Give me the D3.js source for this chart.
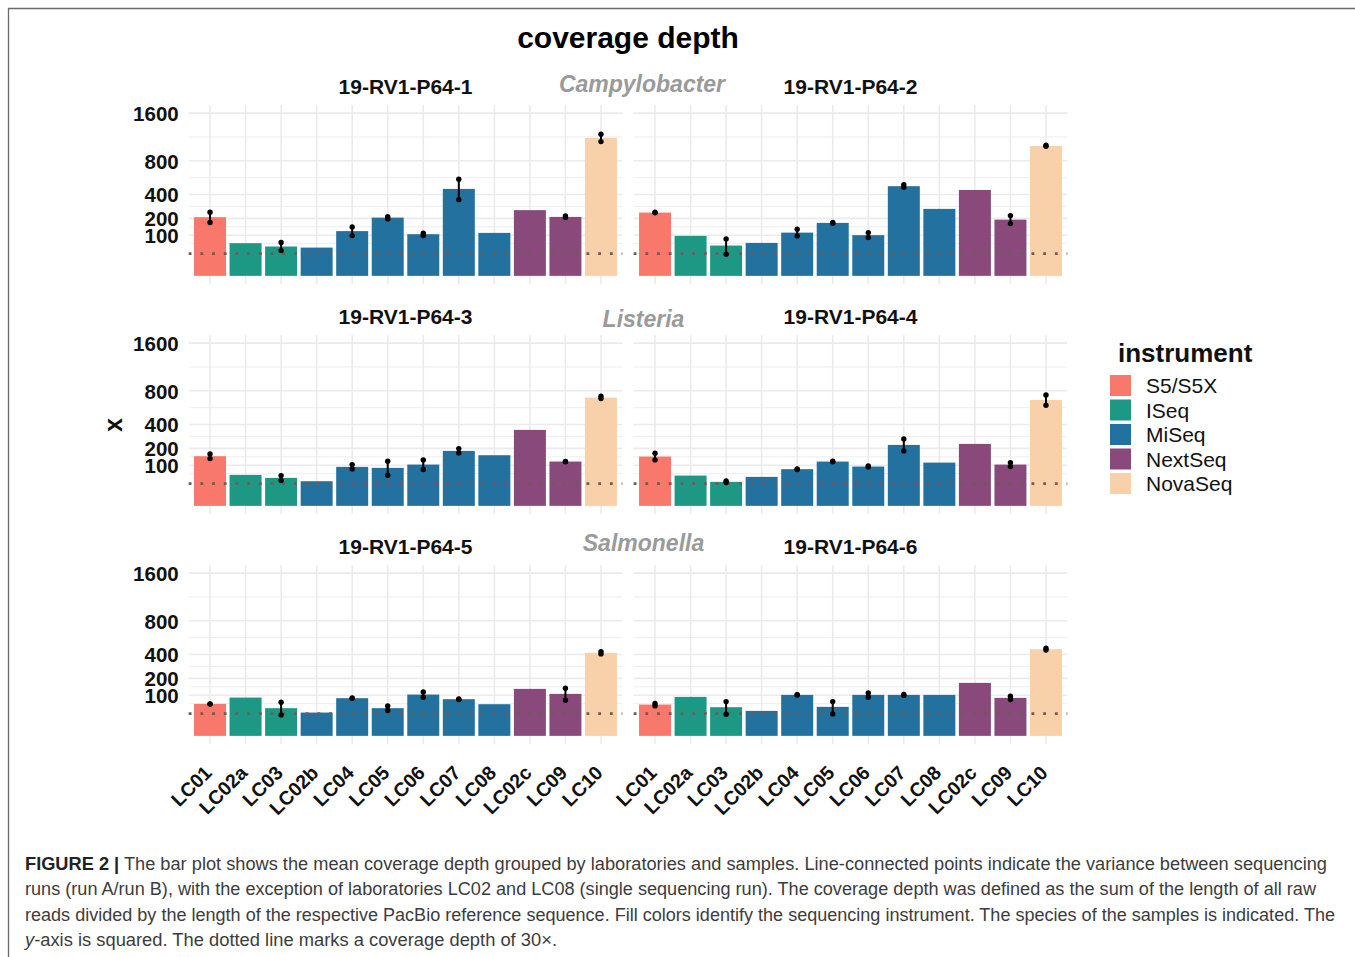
<!DOCTYPE html>
<html>
<head>
<meta charset="utf-8">
<script src="https://cdn.jsdelivr.net/npm/d3@7"></script>
<style>
  body { margin: 0; background: #ffffff; }
  svg { display: block; }
</style>
</head>
<body>
<svg id="chart" width="1355" height="957"></svg>
<script>
// ---- data ---------------------------------------------------------------
const labs = ["LC01", "LC02a", "LC03", "LC02b", "LC04", "LC05", "LC06", "LC07", "LC08", "LC02c", "LC09", "LC10"];
const labInstrument = ["S5/S5X", "ISeq", "ISeq", "MiSeq", "MiSeq", "MiSeq", "MiSeq", "MiSeq", "MiSeq", "NextSeq", "NextSeq", "NovaSeq"];
const instruments = ["S5/S5X", "ISeq", "MiSeq", "NextSeq", "NovaSeq"];
const instrumentColors = ["#F8786C", "#1C9885", "#23719F", "#894A7B", "#F8D1AA"];
const samples = ["19-RV1-P64-1", "19-RV1-P64-2", "19-RV1-P64-3", "19-RV1-P64-4", "19-RV1-P64-5", "19-RV1-P64-6"];
const species = ["Campylobacter", "Listeria", "Salmonella"];
const yBreaks = [100, 200, 400, 800, 1600];
const targetDepth = 30;

// mean coverage depth per laboratory (bar heights)
const meanP1 = [208, 64.5, 52, 48.3, 121, 205, 105, 457, 111.6, 261, 210, 1150];
const meanP2 = [242, 96.6, 55.5, 65.7, 113, 169.6, 100, 486, 271, 446, 191, 1020];
const meanP3 = [149, 58, 47.3, 36.7, 91.8, 87.2, 103, 182.6, 155, 348.7, 118.7, 708];
const meanP4 = [146.8, 55.4, 34.8, 50.8, 81.3, 118.6, 93.4, 224.6, 113, 232, 103, 678];
const meanP5 = [61.8, 88.6, 46.3, 32.8, 85.8, 46.3, 103, 81.3, 60.6, 133.4, 106.5, 416];
const meanP6 = [59.2, 91.8, 49.6, 37.7, 101.5, 50.8, 101.5, 101.5, 101.5, 169.6, 87.2, 453.8];

// individual sequencing runs (null where only one run was submitted)
const runAP1 = [245, null, 67, null, 145, 212, 110, 565, null, null, 217, 1211];
const runBP1 = [172, null, 38.6, null, 98, 196, 98, 351, null, null, 205, 1089];
const runAP2 = [244, null, 82.6, null, 131.6, 172, 113, 503, null, null, 219.6, 1030];
const runBP2 = [240, null, 28.4, null, 96.6, 167, 88.6, 475, null, null, 165, 1015];
const runAP3 = [163, null, 55.4, null, 103, 120.6, 127.7, 198, null, null, 119, 726];
const runBP3 = [135, null, 38.7, null, 82.6, 56.9, 79.6, 169.6, null, null, 118, 695];
const runAP4 = [167.5, null, 37.7, null, 82, 120, 96, 271, null, null, 113, 744];
const runBP4 = [127.7, null, 32.8, null, 80, 117, 91, 182.6, null, null, 93.5, 612];
const runAP5 = [62, null, 68.6, null, 87, 54.3, 116.9, 82, null, null, 137, 429];
const runBP5 = [61, null, 26.6, null, 85, 38.7, 90.3, 80, null, null, 76.9, 406];
const runAP6 = [63, null, 71, null, 102, 71, 111.6, 104, null, null, 95, 464];
const runBP6 = [54.3, null, 28.3, null, 101, 29.2, 90.3, 99, null, null, 79.6, 446];

const meanBySample = [meanP1, meanP2, meanP3, meanP4, meanP5, meanP6];
const runABySample = [runAP1, runAP2, runAP3, runAP4, runAP5, runAP6];
const runBBySample = [runBP1, runBP2, runBP3, runBP4, runBP5, runBP6];

// ---- layout -------------------------------------------------------------
const FONT = "'Liberation Sans', Arial, Helvetica, sans-serif";
const svg = d3.select("#chart");
const colExtent = [[188.7, 622.3], [633.7, 1067.3]];
const rowTop = 105, rowBottom = 284, rowStep = 230;

const fill = d3.scaleOrdinal().domain(instruments).range(instrumentColors);

// figure frame
svg.append("path")
  .attr("d", "M8.5,957 L8.5,8.5 L1355,8.5")
  .attr("fill", "none").attr("stroke", "#6a6a6a").attr("stroke-width", 1.3);

// title
svg.append("text")
  .attr("x", 628).attr("y", 48)
  .attr("text-anchor", "middle")
  .attr("font-family", FONT).attr("font-weight", "bold").attr("font-size", 30)
  .attr("fill", "#000").text("coverage depth");

// minor grid values: midpoints between major breaks in sqrt space, ggplot style
function minorBreaks(major, lo, hi) {
  const s = major.map(Math.sqrt);
  const d = s[1] - s[0];
  let b = s.slice();
  if (lo < b[0]) b = [b[0] - d].concat(b);
  if (hi > b[b.length - 1]) b.push(b[b.length - 1] + d);
  const out = [];
  for (let i = 0; i < b.length - 1; i++) out.push((b[i] + b[i + 1]) / 2);
  return out.filter(v => v > lo && v < hi).map(v => v * v);
}

samples.forEach((sample, i) => {
  const row = Math.floor(i / 2), col = i % 2;
  const [x0, x1] = colExtent[col];
  const top = rowTop + row * rowStep, bottom = rowBottom + row * rowStep;

  const x = d3.scaleBand().domain(labs).range([x0, x1]).paddingInner(0.1).paddingOuter(0.15);
  const y = d3.scalePow().exponent(0.5).domain([-4, 1764]).range([bottom, top]);

  const g = svg.append("g");
  const grid = g.append("g");

  // horizontal minor + major grid
  minorBreaks(yBreaks, -2, 42).forEach(v => {
    grid.append("line").attr("x1", x0).attr("x2", x1)
      .attr("y1", y(v)).attr("y2", y(v))
      .attr("stroke", "#ececec").attr("stroke-width", 0.9);
  });
  yBreaks.forEach(v => {
    grid.append("line").attr("x1", x0).attr("x2", x1)
      .attr("y1", y(v)).attr("y2", y(v))
      .attr("stroke", "#ebebeb").attr("stroke-width", 1.6);
  });
  // vertical grid at each laboratory
  labs.forEach(l => {
    const cx = x(l) + x.bandwidth() / 2;
    grid.append("line").attr("x1", cx).attr("x2", cx)
      .attr("y1", top).attr("y2", bottom)
      .attr("stroke", "#ebebeb").attr("stroke-width", 1.6);
  });

  // bars
  g.selectAll("rect.bar")
    .data(labs.map((l, j) => ({ lab: l, inst: labInstrument[j], v: meanBySample[i][j] })))
    .join("rect")
    .attr("class", "bar")
    .attr("x", d => x(d.lab))
    .attr("width", x.bandwidth())
    .attr("y", d => y(d.v))
    .attr("height", d => y(0) - y(d.v))
    .attr("fill", d => fill(d.inst));

  // 30x reference line
  g.append("line").attr("x1", x0).attr("x2", x1)
    .attr("y1", y(targetDepth)).attr("y2", y(targetDepth))
    .attr("stroke", "#6e5b55").attr("stroke-width", 2.8)
    .attr("stroke-dasharray", "2.8 8.9");

  // run A / run B points joined by a line
  const runs = labs.map((l, j) => ({ lab: l, a: runABySample[i][j], b: runBBySample[i][j] }))
    .filter(d => d.a != null);
  runs.forEach(d => {
    const cx = x(d.lab) + x.bandwidth() / 2;
    g.append("line").attr("x1", cx).attr("x2", cx)
      .attr("y1", y(d.a)).attr("y2", y(d.b))
      .attr("stroke", "#000").attr("stroke-width", 2);
    [d.a, d.b].forEach(v => {
      g.append("circle").attr("cx", cx).attr("cy", y(v)).attr("r", 2.7).attr("fill", "#000");
    });
  });

  // facet strip label
  svg.append("text")
    .attr("x", (x0 + x1) / 2).attr("y", top - 11)
    .attr("text-anchor", "middle")
    .attr("font-family", FONT).attr("font-weight", "bold").attr("font-size", 21)
    .attr("fill", "#111").text(sample);

  // y axis labels on the left column
  if (col === 0) {
    const ax = svg.append("g").attr("transform", `translate(${x0 - 10},0)`)
      .call(d3.axisLeft(y).tickValues(yBreaks).tickFormat(d3.format("d")).tickSize(0).tickPadding(0));
    ax.select(".domain").remove();
    ax.selectAll("text")
      .attr("font-family", FONT).attr("font-weight", "bold").attr("font-size", 20.5)
      .attr("fill", "#111").attr("dy", "0.36em");
  }

  // x axis labels on the bottom row
  if (row === 2) {
    labs.forEach(l => {
      const cx = x(l) + x.bandwidth() / 2;
      svg.append("text")
        .attr("transform", `translate(${cx + 3},${bottom + 30}) rotate(-45)`)
        .attr("text-anchor", "end")
        .attr("font-family", FONT).attr("font-weight", "bold").attr("font-size", 19.5)
        .attr("fill", "#111").text(l);
    });
  }
});

// species annotations
const speciesPos = [[642, 92], [643.5, 327], [643.5, 551]];
species.forEach((s, k) => {
  svg.append("text")
    .attr("x", speciesPos[k][0]).attr("y", speciesPos[k][1])
    .attr("text-anchor", "middle")
    .attr("font-family", FONT).attr("font-weight", "bold").attr("font-style", "italic")
    .attr("font-size", 23).attr("fill", "#9a9a9a").text(s);
});

// y axis title
svg.append("text")
  .attr("transform", "translate(113,425) rotate(-90)")
  .attr("text-anchor", "middle").attr("dominant-baseline", "central")
  .attr("font-family", FONT).attr("font-weight", "bold").attr("font-size", 25)
  .attr("fill", "#111").text("x");

// legend
const legend = svg.append("g").attr("transform", "translate(1110,0)");
legend.append("text").attr("x", 8).attr("y", 362)
  .attr("font-family", FONT).attr("font-weight", "bold").attr("font-size", 26)
  .attr("fill", "#111").text("instrument");
instruments.forEach((inst, k) => {
  const ky = 375 + k * 24.5;
  legend.append("rect").attr("x", 0).attr("y", ky).attr("width", 21).attr("height", 21)
    .attr("fill", fill(inst));
  legend.append("text").attr("x", 36).attr("y", ky + 10.5).attr("dy", "0.36em")
    .attr("font-family", FONT).attr("font-size", 21).attr("fill", "#111").text(inst);
});

// caption
const capLines = [
  { w: 1302, parts: [["FIGURE 2 |", "bold", "normal", "#222"], [" The bar plot shows the mean coverage depth grouped by laboratories and samples. Line-connected points indicate the variance between sequencing", "normal", "normal", "#3c3c3c"]] },
  { w: 1291, parts: [["runs (run A/run B), with the exception of laboratories LC02 and LC08 (single sequencing run). The coverage depth was defined as the sum of the length of all raw", "normal", "normal", "#3c3c3c"]] },
  { w: 1310, parts: [["reads divided by the length of the respective PacBio reference sequence. Fill colors identify the sequencing instrument. The species of the samples is indicated. The", "normal", "normal", "#3c3c3c"]] },
  { w: 532, parts: [["y", "normal", "italic", "#3c3c3c"], ["-axis is squared. The dotted line marks a coverage depth of 30\u00d7.", "normal", "normal", "#3c3c3c"]] }
];
capLines.forEach((ln, k) => {
  const t = svg.append("text")
    .attr("x", 25).attr("y", 870 + k * 25.3)
    .attr("font-family", FONT).attr("font-size", 17.5)
    .attr("textLength", ln.w).attr("lengthAdjust", "spacingAndGlyphs");
  ln.parts.forEach(p => {
    t.append("tspan").attr("font-weight", p[1]).attr("font-style", p[2]).attr("fill", p[3]).text(p[0]);
  });
});
</script>
</body>
</html>
